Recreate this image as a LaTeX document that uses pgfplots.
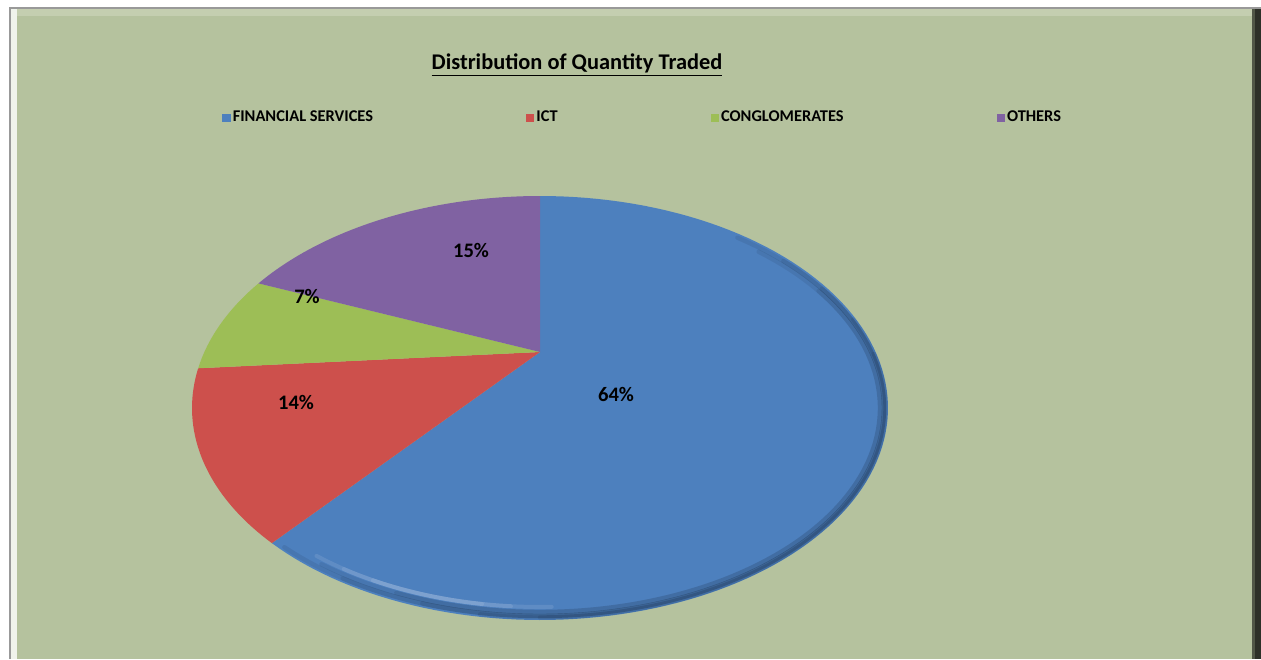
\documentclass[border=0pt]{standalone}
\usepackage{fontspec}
\setmainfont{Carlito}
\usepackage{pgfplots}
\usepackage{pgfplotstable}
\pgfplotsset{compat=1.18}
\definecolor{bg}{RGB}{181,194,158}
\definecolor{bgtop}{RGB}{196,206,176}
\definecolor{cfin}{RGB}{77,128,190}
\definecolor{cict}{RGB}{205,80,76}
\definecolor{ccon}{RGB}{157,190,86}
\definecolor{coth}{RGB}{128,98,162}

\pgfplotstableread{
sector pct
FIN 64
ICT 14
CON 7
OTH 15
}\piedata

\begin{document}
\begin{tikzpicture}
\pgfplotstablegetelem{0}{pct}\of\piedata \let\pA\pgfplotsretval
\pgfplotstablegetelem{1}{pct}\of\piedata \let\pB\pgfplotsretval
\pgfplotstablegetelem{2}{pct}\of\piedata \let\pC\pgfplotsretval
\pgfplotstablegetelem{3}{pct}\of\piedata \let\pD\pgfplotsretval
\pgfmathsetmacro{\aA}{90}
\pgfmathsetmacro{\aB}{\aA-3.6*\pA}
\pgfmathsetmacro{\aC}{\aB-3.6*\pB}
\pgfmathsetmacro{\aD}{\aC-3.6*\pC}
\pgfmathsetmacro{\aE}{\aD-3.6*\pD}
\begin{axis}[
  scale only axis, width=630.5pt, height=329.5pt,
  xmin=0, xmax=1261, ymin=0, ymax=659,
  hide axis, clip=false,
  legend columns=4,
  legend image code/.code={\fill[#1] (0pt,-2.1pt) rectangle (4.2pt,2.1pt);},
  legend style={at={(axis cs:222,541)}, anchor=west, draw=none, fill=none,
    font=\bfseries\fontsize{8.2}{9}\selectfont, inner sep=0pt,
    nodes={inner sep=1pt},
    /tikz/every even column/.append style={column sep=75.5pt}},
  rim/.style={forget plot, draw=black, line cap=round, opacity=0.07, line width=2.2pt, samples=100},
  glow/.style={forget plot, draw=white, line cap=round, opacity=0.10, line width=2pt, samples=60},
]
% frame and background
\fill[white] (axis cs:0,0) rectangle (axis cs:1261,659);
\fill[gray!80] (axis cs:9,0) rectangle (axis cs:1261,652);
\fill[bg] (axis cs:11,0) rectangle (axis cs:1252,650);
\fill[bgtop] (axis cs:11,643) rectangle (axis cs:1252,650);
\fill[white!80!bg] (axis cs:11,0) rectangle (axis cs:17,650);
\fill[black!55!bg] (axis cs:1252,0) rectangle (axis cs:1261,650);
\fill[black!75!bg] (axis cs:1255,0) rectangle (axis cs:1261,650);
% pie sectors
\addplot[fill=cfin, draw=none, domain=\aB:\aA, samples=120]
  ({540+348*cos(x)},{251+212*sin(x)}) -- (axis cs:540,307) -- cycle;
\addplot[fill=cict, draw=none, domain=\aC:\aB, samples=40]
  ({540+348*cos(x)},{251+212*sin(x)}) -- (axis cs:540,307) -- cycle;
\addplot[fill=ccon, draw=none, domain=\aD:\aC, samples=30]
  ({540+348*cos(x)},{251+212*sin(x)}) -- (axis cs:540,307) -- cycle;
\addplot[fill=coth, draw=none, domain=\aE:\aD, samples=40]
  ({540+348*cos(x)},{251+212*sin(x)}) -- (axis cs:540,307) -- cycle;
% bevel shading (decoration only)
\addplot[rim, domain=-138:55] ({540+344*cos(x)},{251+208*sin(x)});
\addplot[rim, domain=-125:45] ({540+344*cos(x)},{251+208*sin(x)});
\addplot[rim, domain=-110:35] ({540+344*cos(x)},{251+208*sin(x)});
\addplot[rim, domain=-100:25] ({540+345.5*cos(x)},{251+209.5*sin(x)});
\addplot[rim, domain=-90:15] ({540+345.5*cos(x)},{251+209.5*sin(x)});
\addplot[rim, domain=-130:50] ({540+340*cos(x)},{251+204*sin(x)});
\addplot[rim, domain=-115:35] ({540+340*cos(x)},{251+204*sin(x)});
\addplot[glow, domain=-132:-88] ({540+334*cos(x)},{251+199*sin(x)});
\addplot[glow, domain=-126:-95] ({540+334*cos(x)},{251+199*sin(x)});
\addplot[glow, domain=-120:-100] ({540+334*cos(x)},{251+199*sin(x)});
\legend{FINANCIAL SERVICES, ICT, CONGLOMERATES, OTHERS}
% labels
\node[font=\bfseries\fontsize{10.3}{12}\selectfont] at (axis cs:616,265) {64\%};
\node[font=\bfseries\fontsize{10.3}{12}\selectfont] at (axis cs:296,257) {14\%};
\node[font=\bfseries\fontsize{10.3}{12}\selectfont] at (axis cs:307,363) {7\%};
\node[font=\bfseries\fontsize{10.3}{12}\selectfont] at (axis cs:471,409) {15\%};
\node[font=\bfseries\fontsize{11.2}{13}\selectfont] at (axis cs:577,594) {\underline{Distribution of Quantity Traded}};
\end{axis}
\end{tikzpicture}
\end{document}
